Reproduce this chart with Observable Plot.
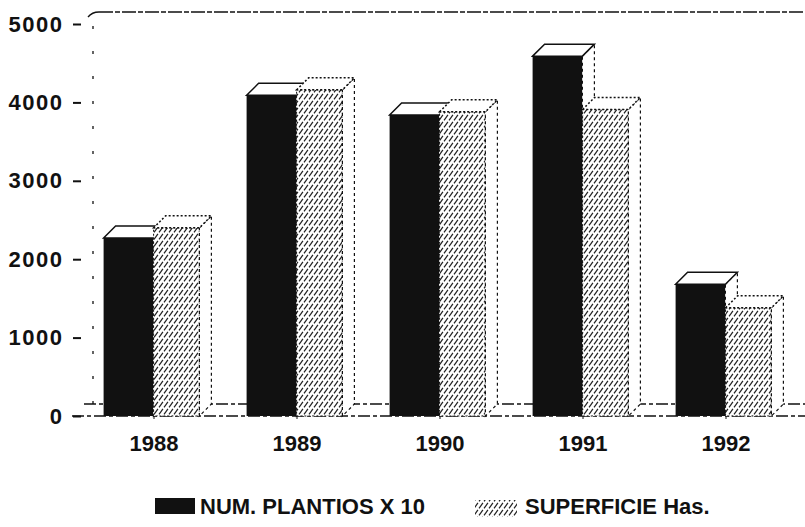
<!DOCTYPE html>
<html><head><meta charset="utf-8">
<script src="https://cdn.jsdelivr.net/npm/d3@7"></script>
<script src="https://cdn.jsdelivr.net/npm/@observablehq/plot@0.6"></script>
<style>
  html,body{margin:0;padding:0;background:#fff;}
  body{width:805px;height:527px;overflow:hidden;font-family:"Liberation Sans",Arial,Helvetica,sans-serif;}
  #legend{position:relative;height:47px;font-weight:bold;font-size:22px;color:#111;}
  #legend .sw{position:absolute;}
  #legend .lb{position:absolute;top:16px;line-height:22px;white-space:nowrap;}
  .yax text{letter-spacing:1.5px;}
</style></head>
<body>
<div id="chart"></div>
<div id="legend"></div>
<script>
// ---- data ----
const years = ["1988", "1989", "1990", "1991", "1992"];
const plantios = [2270, 4090, 3840, 4590, 1680];      // NUM. PLANTIOS X 10
const superficie = [2400, 4160, 3880, 3910, 1380];    // SUPERFICIE Has.
const seriesNames = ["NUM. PLANTIOS X 10", "SUPERFICIE Has."];
const yTicks = [0, 1000, 2000, 3000, 4000, 5000];

const rows = [];
years.forEach((y, i) => {
  rows.push({year: y, series: seriesNames[0], value: plantios[i]});
  rows.push({year: y, series: seriesNames[1], value: superficie[i]});
});

const D = 12; // 3D depth in pixels
const NS = "http://www.w3.org/2000/svg";
function poly(points, attrs) {
  const p = document.createElementNS(NS, "polygon");
  p.setAttribute("points", points.map(q => q.join(",")).join(" "));
  for (const k in attrs) p.setAttribute(k, attrs[k]);
  return p;
}

function bar3d(series, opts) {
  return Plot.barY(rows.filter(d => d.series === series), {
    x: "year", y: "value", ...opts,
    render(index, scales, values, dimensions, context, next) {
      const g = next(index, scales, values, dimensions, context);
      const rects = Array.from(g.querySelectorAll("rect"));
      rects.forEach(r => {
        const x = +r.getAttribute("x"), y = +r.getAttribute("y");
        const w = +r.getAttribute("width"), h = +r.getAttribute("height");
        g.appendChild(poly([[x + w, y], [x + w + D, y - D], [x + w + D, y + h - D], [x + w, y + h]],
          {fill: "#fff", stroke: "#111", "stroke-width": 1.2, "stroke-dasharray": "3,3"}));
        g.appendChild(poly([[x, y], [x + D, y - D], [x + w + D, y - D], [x + w, y]],
          {fill: "#fff", stroke: "#111", "stroke-width": 1.5}));
      });
      return g;
    }
  });
}

const W = 805, H = 480, ML = 81, MR = 8, MT = 24, MB = 64;
const step = (W - ML - MR) / years.length;

const chart = Plot.plot({
  width: W, height: H,
  marginLeft: ML, marginRight: MR, marginTop: MT, marginBottom: MB,
  style: {fontFamily: "'Liberation Sans', Arial, Helvetica, sans-serif", fontSize: "22px", fontWeight: "bold", color: "#111", background: "#fff"},
  x: {domain: years, padding: 0, label: null},
  y: {domain: [0, 5000], label: null},
  marks: [
    () => {
      const defs = d3.create("svg:defs");
      const pat = defs.append("pattern").attr("id", "hatch").attr("patternUnits", "userSpaceOnUse")
        .attr("width", 5).attr("height", 7);
      pat.append("rect").attr("width", 5).attr("height", 7).attr("fill", "#fff");
      pat.append("path").attr("d", "M-5,7 L5,-7 M0,7 L5,0 M0,14 L10,0")
        .attr("stroke", "#222").attr("stroke-width", 1.3).attr("stroke-dasharray", "5,2");
      return defs.node();
    },
    // back wall and floor (dashed)
    Plot.ruleY([0], {
      render(index, scales, values, dimensions) {
        const g = document.createElementNS(NS, "g");
        const y0 = scales.y(0), yT = scales.y(5000);
        const xl = dimensions.marginLeft + D;
        const mk = (d, dash, sw) => {
          const p = document.createElementNS(NS, "path");
          p.setAttribute("d", d); p.setAttribute("fill", "none");
          p.setAttribute("stroke", "#111"); p.setAttribute("stroke-width", sw);
          p.setAttribute("stroke-dasharray", dash);
          g.appendChild(p);
        };
        mk(`M${xl + 6},${yT - D}H${dimensions.width}`, "14,2,5,2", 1.5);
        mk(`M${xl - 5},${yT - D + 5}Q${xl - 1},${yT - D} ${xl + 6},${yT - D}`, "none", 1.3);
        mk(`M${xl},${y0 - D}V${yT - D + 6}`, "3,22", 1.3);
        mk(`M${xl - D + 3},${y0 - D}H${dimensions.width}`, "12,3,4,3", 1.3);
        mk(`M${dimensions.marginLeft - 9},${y0}H${dimensions.width}`, "12,3,4,3", 1.6);
        return g;
      }
    }),
    bar3d(seriesNames[0], {fill: "#111", insetLeft: step / 2 - 50, insetRight: step / 2}),
    bar3d(seriesNames[1], {fill: "url(#hatch)", stroke: "#111", strokeWidth: 1, strokeDasharray: "2,2", insetLeft: step / 2, insetRight: step / 2 - 46}),
    Plot.axisY({ticks: yTicks, tickSize: 8, tickPadding: 10, tickFormat: d => String(d), strokeWidth: 2, className: "yax"}),
    Plot.axisX({tickSize: 3, tickPadding: 16})
  ]
});
document.getElementById("chart").appendChild(chart);

// legend
const lg = document.getElementById("legend");
lg.innerHTML = `
  <div class="sw" style="left:155px;top:18px;width:40px;height:16px;background:#111"></div>
  <div class="lb" style="left:200px">${seriesNames[0]}</div>
  <svg class="sw" style="left:475px;top:20px" width="42" height="17"><rect width="42" height="17" fill="url(#hatch)"/></svg>
  <div class="lb" style="left:525px">${seriesNames[1]}</div>`;
</script>
</body></html>
